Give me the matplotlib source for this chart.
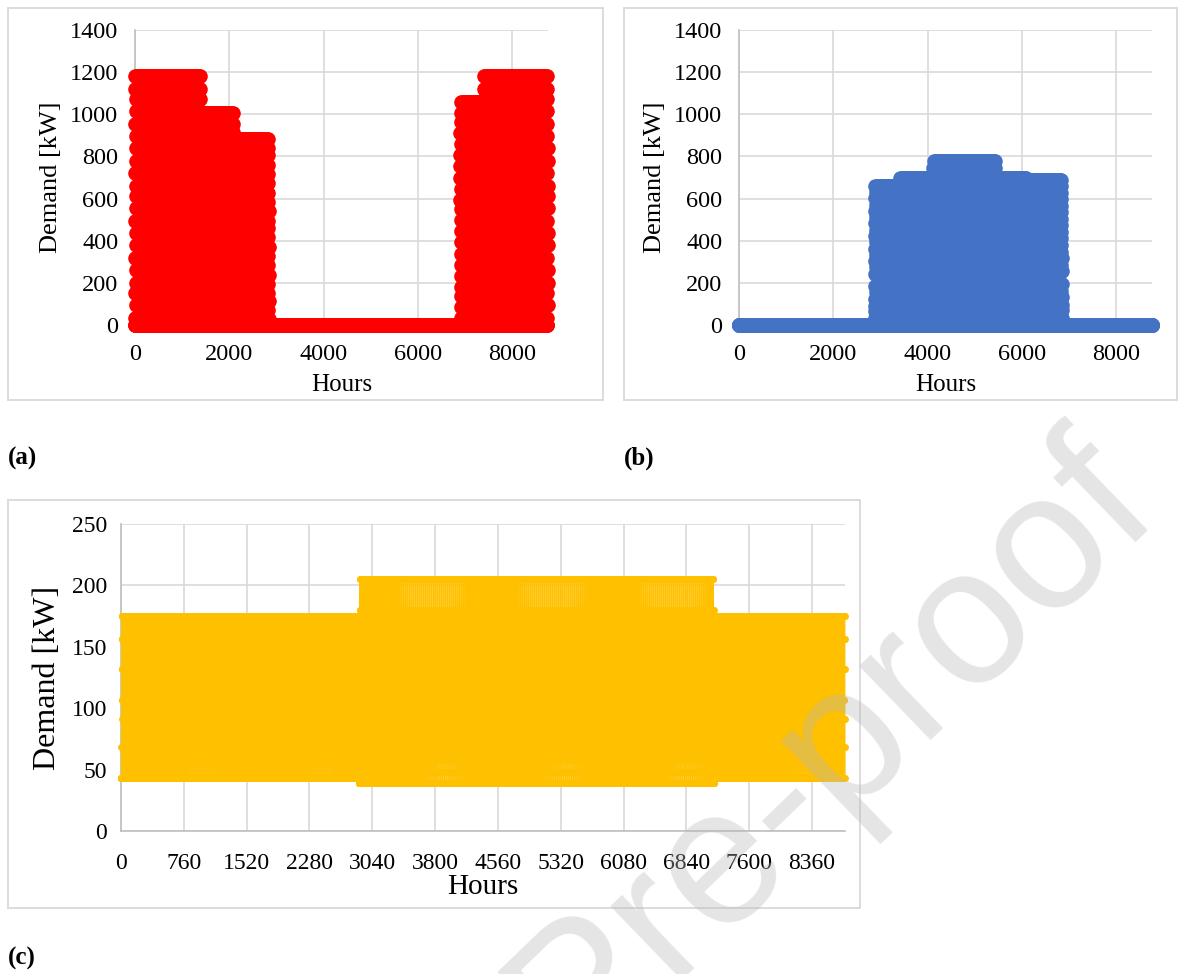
import numpy as np
import matplotlib
matplotlib.use("Agg")
import matplotlib.pyplot as plt
from matplotlib.patches import Rectangle

# ---------------- data ----------------
hours = np.arange(8760)

# (a) heating demand: season blocks (start hour, peak kW) and daily shape (fraction of peak)
heat_seg_start = [0, 1400, 2080, 2840, 6900, 7400]
heat_seg_peak = [1180, 1005, 885, 0, 1060, 1180]
heat_daily_profile = [0, 0, 0, 0.03, 0.13, 0.27, 0.42, 0.61, 0.81, 1.0, 0.95, 0.91,
                      0.86, 0.76, 0.71, 0.66, 0.56, 0.52, 0.47, 0.37, 0.32, 0.22, 0.17, 0.08]

# (b) cooling demand
cool_seg_start = [0, 2880, 3420, 4120, 5450, 6100, 6850]
cool_seg_peak = [0, 660, 700, 780, 700, 690, 0]
cool_daily_profile = [0, 0, 0, 0.05, 0.10, 0.14, 0.19, 0.28, 0.37, 0.46, 0.55, 0.64,
                      0.73, 0.82, 0.91, 1.0, 0.955, 0.865, 0.775, 0.685, 0.595, 0.505, 0.415, 0.235]

# (c) electricity demand: season blocks and daily profiles in kW
elec_seg_start = [0, 2880, 7180]
elec_seg_is_summer = [0, 1, 0]
elec_winter_day = [43, 43, 43, 43, 43, 43, 68, 91, 107, 132, 156, 175,
                   175, 156, 132, 107, 132, 156, 175, 156, 132, 91, 68, 43]
elec_summer_day = [39, 39, 39, 39, 39, 48, 58, 75, 100, 125, 152, 180,
                   205, 205, 180, 152, 125, 152, 180, 152, 125, 100, 75, 48]

x_ticks_ab = [0, 2000, 4000, 6000, 8000]
y_ticks_ab = [0, 200, 400, 600, 800, 1000, 1200, 1400]
x_ticks_c = list(range(0, 8761, 760))
y_ticks_c = [0, 50, 100, 150, 200, 250]

# ---------------- build hourly series ----------------
hod = hours % 24
seg = np.searchsorted(heat_seg_start, hours, side="right") - 1
heat = np.array(heat_seg_peak)[seg] * np.array(heat_daily_profile)[hod]
seg = np.searchsorted(cool_seg_start, hours, side="right") - 1
cool = np.array(cool_seg_peak)[seg] * np.array(cool_daily_profile)[hod]
seg = np.searchsorted(elec_seg_start, hours, side="right") - 1
summer = np.array(elec_seg_is_summer)[seg]
elec = np.where(summer == 1, np.array(elec_summer_day)[hod], np.array(elec_winter_day)[hod])

# ---------------- figure ----------------
W, H = 1178, 974
fig = plt.figure(figsize=(W / 100, H / 100), dpi=100)
SERIF = ["Liberation Serif", "DejaVu Serif"]
plt.rcParams["font.family"] = SERIF
GRID = "#d9d9d9"
AXC = "#bfbfbf"


def fr(x0, y0, x1, y1):
    return [x0 / W, 1 - y1 / H, (x1 - x0) / W, (y1 - y0) / H]


# chart frames
for (x0, y0, x1, y1) in [(8, 8, 603, 400), (624, 8, 1177, 400), (8, 500, 860, 908)]:
    fig.patches.append(Rectangle((x0 / W, 1 - y1 / H), (x1 - x0) / W, (y1 - y0) / H,
                                 transform=fig.transFigure, fill=False,
                                 edgecolor=GRID, lw=1.3))


def style(ax, xt, yt, xlim, ylim, fs, xlfs, ylfs, xpad, ypad, xlp, ylp):
    ax.set_xlim(*xlim)
    ax.set_ylim(*ylim)
    ax.set_xticks(xt)
    ax.set_yticks(yt)
    ax.set_xticklabels([str(v) for v in xt])
    ax.set_yticklabels([str(v) for v in yt])
    ax.grid(True, color=GRID, lw=1.2, zorder=0)
    ax.set_axisbelow(True)
    for s in ["top", "right"]:
        ax.spines[s].set_visible(False)
    for s in ["left", "bottom"]:
        ax.spines[s].set_color(AXC)
        ax.spines[s].set_linewidth(1.2)
    ax.tick_params(length=0, labelsize=fs)
    ax.tick_params(axis="x", pad=xpad)
    ax.tick_params(axis="y", pad=ypad)
    ax.set_xlabel("Hours", fontsize=xlfs, labelpad=xlp)
    ax.set_ylabel("Demand [kW]", fontsize=ylfs, labelpad=ylp)


# (a)
axa = fig.add_axes(fr(135, 30, 548, 325))
axa.plot(hours, heat, "o", color="#ff0000", ms=10.5, mew=0, clip_on=False, zorder=3)
style(axa, x_ticks_ab, y_ticks_ab, (0, 8760), (0, 1400), 17.5, 18, 19, 14, 12, 6, 6)

# (b)
axb = fig.add_axes(fr(739, 30, 1152, 325))
axb.plot(hours, cool, "o", color="#4472c4", ms=10.5, mew=0, clip_on=False, zorder=3)
style(axb, x_ticks_ab, y_ticks_ab, (0, 8760), (0, 1400), 17.5, 18, 19, 14, 12, 6, 6)

# (c)
axc = fig.add_axes(fr(121, 524, 845, 831))
axc.plot(hours, elec, "-", color="#ffc000", lw=1.0, marker="o", ms=5, mew=0,
         clip_on=False, zorder=3)
style(axc, x_ticks_c, y_ticks_c, (0, 8760), (0, 250), 17, 21, 23, 16, 10, 0, 7)

# panel letters
for lbl, x, y in [("(a)", 8, 458), ("(b)", 624, 458), ("(c)", 8, 958)]:
    fig.text(x / W, 1 - y / H, lbl, fontsize=18, fontweight="bold",
             ha="left", va="center", family=SERIF)

# watermark
fig.text(832 / W, 1 - 750 / H, "Pre-proof", rotation=44, fontsize=140,
         color="#b8b8b8", alpha=0.36, ha="center", va="center",
         family=["Liberation Sans", "DejaVu Sans"], zorder=20)

fig.savefig("out.png", dpi=100)
